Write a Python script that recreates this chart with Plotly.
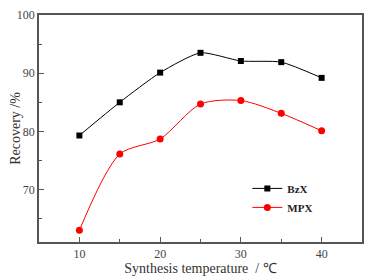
import plotly.graph_objects as go

temps = [10, 15, 20, 25, 30, 35, 40]
bzx = [79.3, 85.0, 90.1, 93.5, 92.1, 91.9, 89.2]
mpx = [63.0, 76.1, 78.7, 84.7, 85.3, 83.1, 80.1]

fig = go.Figure()
fig.add_trace(go.Scatter(x=temps, y=bzx, name="BzX", mode="lines+markers",
                         line=dict(color="black", width=1, shape="spline", smoothing=0.6),
                         marker=dict(symbol="square", size=6, color="black")))
fig.add_trace(go.Scatter(x=temps, y=mpx, name="MPX", mode="lines+markers",
                         line=dict(color="red", width=1, shape="spline", smoothing=0.8),
                         marker=dict(symbol="circle", size=7, color="red")))

axis_common = dict(showline=True, linecolor="#555", linewidth=1.5, mirror=True,
                   ticks="inside", ticklen=5, tickcolor="#555", showgrid=False,
                   zeroline=False, automargin=False,
                   tickfont=dict(family="Liberation Serif", size=12, color="#444"))
fig.update_layout(
    width=379, height=268,
    margin=dict(l=31, r=25, t=7, b=34),
    paper_bgcolor="white", plot_bgcolor="white",
    font=dict(family="Liberation Serif", color="#333"),
    xaxis=dict(range=[5, 45], tickvals=[10, 20, 30, 40],
               minor=dict(tickvals=[15, 25, 35], ticks="inside", ticklen=3, tickcolor="#555"),
               title=dict(text="Synthesis temperature  / ℃", font=dict(size=14), standoff=2),
               **axis_common),
    yaxis=dict(range=[61, 100], tickvals=[70, 80, 90, 100],
               minor=dict(tickvals=[65, 75, 85, 95], ticks="inside", ticklen=3, tickcolor="#555"),
               title=dict(text="Recovery /%", font=dict(size=14), standoff=4),
               **axis_common),
    legend=dict(x=0.645, y=0.30, xanchor="left", yanchor="top",
                font=dict(family="Liberation Serif", size=11, color="#222", weight="bold"),
                bgcolor="rgba(0,0,0,0)", tracegroupgap=0, itemwidth=30),
)
fig.write_html("out.html")
